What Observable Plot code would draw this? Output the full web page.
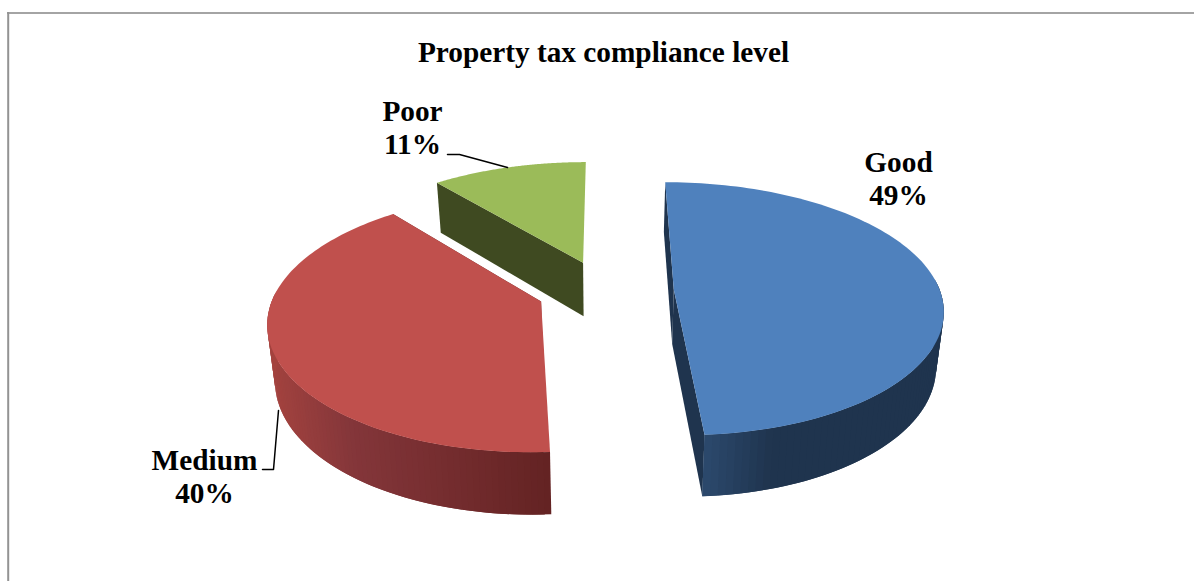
<!DOCTYPE html>
<html>
<head>
<meta charset="utf-8">
<title>Property tax compliance level</title>
<script src="https://cdn.jsdelivr.net/npm/d3@7"></script>
<script src="https://cdn.jsdelivr.net/npm/@observablehq/plot@0.6"></script>
<style>
  html, body { margin: 0; padding: 0; background: #fff; }
  svg { display: block; }
</style>
</head>
<body>
<div id="chart"></div>
<script>
// Survey shares, in percent
const categories = ["Good", "Medium", "Poor"];
const shares = [49, 40, 11];

const chartTitle = "Property tax compliance level";

// Slice styling, by category order
const topColors = ["#4f81bd", "#c0504d", "#9bbb59"];
const rimRamps = [
  ["#2d4b6f", "#1f344e", "#1f344e"],
  ["#a4433f", "#84363a", "#642323"],
  ["#3f4a21", "#3f4a21", "#3f4a21"]
];
const faceColors = ["#1f344e", "#642323", "#3f4a21"];
// Cut faces that the viewer can see on each slice
const visibleFaces = [["start", "end"], ["end"], ["start"]];

// Label and leader layout
const labelX = [898, 204, 412];
const labelY = [177.5, 475.5, 126.5];
const leaders = [
  {id: "Medium", xs: [262, 273, 278], ys: [469, 469, 410]},
  {id: "Poor", xs: [447, 459, 507], ys: [154, 154, 167]}
];

// Perspective camera for the pie disk (radius 1, v towards the viewer)
const W = 1194, H = 581;
const vanishX = 605, horizonY = -518.5;
const depthX = 7, depthY = 6.53, scaleX = 1862, scaleY = 5278;
const explodeU = 0.257, explodeV = 0.245;
const tiltTopY = 17, tiltSlopeY = 247, baseShrink = 0.977;

function project(u, v, level) {
  const w = depthY - v;
  const x = vanishX + u * scaleX / (depthX - v);
  const y = horizonY + scaleY / w;
  if (level === "top") return [x, y];
  return [vanishX + (x - vanishX) * baseShrink, y + tiltTopY + tiltSlopeY / w];
}

const total = d3.sum(shares);
let running = 0;
const slices = categories.map((name, i) => {
  const a0 = running / total * 2 * Math.PI;
  running += shares[i];
  const a1 = running / total * 2 * Math.PI;
  const mid = (a0 + a1) / 2;
  return {name, i, a0, a1, ou: explodeU * Math.sin(mid), ov: -explodeV * Math.cos(mid)};
});

const rimPoint = (s, a, level) =>
  project(s.ou + Math.sin(a), s.ov - Math.cos(a), level);
const apexPoint = (s, level) => project(s.ou, s.ov, level);

// Polygons, in paint order: cut faces, then the rim, then the top
const polygons = [];
const addPolygon = (id, fill, pts) =>
  pts.forEach(([x, y]) => polygons.push({id, fill, x, y}));

const paintOrder = [2, 1, 0];
for (const k of paintOrder) {
  const s = slices[k];
  for (const side of visibleFaces[k]) {
    const a = side === "start" ? s.a0 : s.a1;
    addPolygon(`${s.name}-${side}`, faceColors[k], [
      apexPoint(s, "top"), rimPoint(s, a, "top"),
      rimPoint(s, a, "base"), apexPoint(s, "base")
    ]);
  }
  // The rim is drawn only where it faces the viewer, shaded by horizontal position
  const steps = 120;
  const angles = d3.range(steps + 1).map(j => s.a0 + (s.a1 - s.a0) * j / steps);
  const facing = a => -Math.cos(a) > -0.1;
  const xs = angles.filter(facing).map(a => rimPoint(s, a, "base")[0]);
  const [xMin, xMax] = d3.extent(xs);
  const ramp = d3.scaleLinear().domain([0, 0.3, 1]).range(rimRamps[k]);
  for (let j = 0; j < steps; j++) {
    const a = angles[j], b = angles[Math.min(j + 2, steps)];
    if (!facing(a) || !facing(b)) continue;
    const t = (rimPoint(s, a, "base")[0] - xMin) / (xMax - xMin);
    addPolygon(`${s.name}-rim-${j}`, d3.color(ramp(t)).formatHex(), [
      rimPoint(s, a, "top"), rimPoint(s, b, "top"),
      rimPoint(s, b, "base"), rimPoint(s, a, "base")
    ]);
  }
  const topPts = [apexPoint(s, "top"), ...angles.map(a => rimPoint(s, a, "top"))];
  addPolygon(`${s.name}-top`, topColors[k], topPts);
}

const leaderRows = leaders.flatMap(l => l.xs.map((x, j) => ({id: l.id, x, y: l.ys[j]})));
const labelRows = categories.map((name, i) => ({
  text: `${name}\n${shares[i]}%`, x: labelX[i], y: labelY[i]
}));

const textStyle = {fontFamily: "'Liberation Serif', serif", fontWeight: "bold", fill: "#000"};

const chart = Plot.plot({
  width: W,
  height: H,
  margin: 0,
  x: {domain: [0, W], range: [0, W], axis: null},
  y: {domain: [0, H], range: [0, H], axis: null},
  color: {type: "identity"},
  style: {background: "#fff"},
  marks: [
    // Chart area border: top and left edges
    Plot.ruleY([12.6], {x1: 7, x2: W, stroke: "#868686", strokeWidth: 1.5}),
    Plot.ruleX([7.7], {y1: 12, y2: H, stroke: "#939393", strokeWidth: 2}),
    Plot.line(polygons, {
      x: "x", y: "y", z: "id", fill: "fill", stroke: "none", curve: "linear"
    }),
    Plot.line(leaderRows, {x: "x", y: "y", z: "id", stroke: "#000", strokeWidth: 1.5, curve: "linear"}),
    Plot.text(labelRows, {
      x: "x", y: "y", text: "text", fontSize: 29.3, lineHeight: 1.14, ...textStyle
    }),
    Plot.text([chartTitle], {
      x: () => 603, y: () => 52, text: d => d, fontSize: 29.3, ...textStyle
    })
  ]
});
document.getElementById("chart").append(chart);
</script>
</body>
</html>
